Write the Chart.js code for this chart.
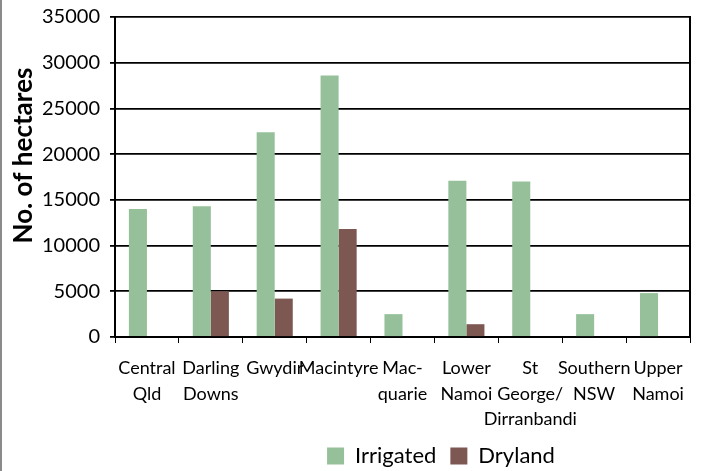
<!DOCTYPE html>
<html>
<head>
<meta charset="utf-8">
<script src="https://cdn.jsdelivr.net/npm/chart.js@4"></script>
<style>
html,body{margin:0;padding:0;background:#fff;}
#wrap{position:relative;width:706px;height:471px;overflow:hidden;}
#edge{position:absolute;left:0;top:0;width:2px;height:471px;background:#8a8a8a;}
canvas{position:absolute;left:0;top:0;}
</style>
</head>
<body>
<div id="wrap"><canvas id="c" width="706" height="471"></canvas><div id="edge"></div></div>
<script>
const categories = [
  ["Central","Qld"],
  ["Darling","Downs"],
  ["Gwydir"],
  ["Macintyre"],
  ["Mac-","quarie"],
  ["Lower","Namoi"],
  ["St","George/","Dirranbandi"],
  ["Southern","NSW"],
  ["Upper","Namoi"]
];
const irrigated = [14000, 14300, 22400, 28600, 2500, 17100, 17000, 2500, 4800];
const dryland   = [0, 5000, 4200, 11800, 0, 1400, 0, 0, 0];
const yTicks = [0, 5000, 10000, 15000, 20000, 25000, 30000, 35000];

const FONT = "Lato, 'Open Sans', sans-serif";

const tweakLayout = {
  id: 'tweakLayout',
  afterLayout(chart) {
    const l = chart.legend;
    if (l) { l.left += 96; l.right += 96; l.top += 6; l.bottom += 6; }
    const s = chart.scales.y;
    if (s && !s._titleWrapped) {
      const orig = s.drawTitle.bind(s);
      s.drawTitle = function () {
        const t = this.top;
        this.top = t - 43;
        orig();
        this.top = t;
      };
      s._titleWrapped = true;
    }
  }
};

new Chart(document.getElementById('c'), {
  type: 'bar',
  data: {
    labels: categories,
    datasets: [
      { label: 'Irrigated', data: irrigated, backgroundColor: '#95c09a', borderWidth: 0 },
      { label: 'Dryland', data: dryland, backgroundColor: '#7d5752', borderWidth: 0 }
    ]
  },
  options: {
    responsive: false,
    animation: false,
    devicePixelRatio: 1,
    layout: { padding: { left: 0, right: 16, top: 0, bottom: 0 } },
    datasets: { bar: { categoryPercentage: 0.565, barPercentage: 1.0 } },
    plugins: {
      legend: {
        position: 'bottom',
        labels: {
          color: '#000',
          font: { family: FONT, size: 22, lineHeight: 1.1 },
          boxWidth: 17, boxHeight: 17, padding: 14
        }
      },
      tooltip: { enabled: false }
    },
    scales: {
      x: {
        offset: true,
        afterFit(scale) { scale.height = 88; },
        grid: { display: true, drawOnChartArea: false, drawTicks: true, tickLength: 6, color: '#000', offset: true },
        border: { display: true, color: '#000', width: 2 },
        ticks: { color: '#000', font: { family: FONT, size: 18, lineHeight: 1.4 }, maxRotation: 0, autoSkip: false, padding: 13 }
      },
      y: {
        min: 0, max: 35000,
        afterBuildTicks(scale) { scale.ticks = yTicks.map(v => ({ value: v })); },
        afterFit(scale) { scale.width = 115; scale.paddingTop = 17; },
        grid: { color: '#000', lineWidth: 1.8, tickLength: 5 },
        border: { display: true, color: '#000', width: 2 },
        ticks: { color: '#000', font: { family: FONT, size: 20, lineHeight: 1.0 }, padding: 10, callback: v => String(v) },
        title: { display: true, text: 'No. of hectares', color: '#000', font: { family: FONT, size: 26, weight: 'bold' }, padding: { top: 8, bottom: 0 } }
      },
      y2: {
        position: 'right',
        min: 0, max: 35000,
        afterFit(scale) { scale.width = 0; scale.paddingTop = 0; },
        grid: { display: false },
        ticks: { display: false },
        border: { display: true, color: '#000', width: 2 }
      }
    }
  },
  plugins: [tweakLayout]
});
</script>
</body>
</html>
